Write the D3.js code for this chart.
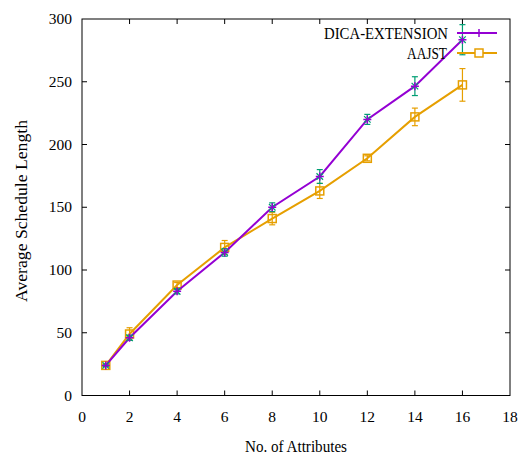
<!DOCTYPE html>
<html>
<head>
<meta charset="utf-8">
<script src="https://cdn.jsdelivr.net/npm/d3@7"></script>
<style>
  body { margin: 0; background: #fff; }
  text { font-family: "Liberation Serif", "Times New Roman", serif; fill: #000; }
</style>
</head>
<body>
<div id="chart"></div>
<script>
(function() {
  var width = 530,
      height = 455;

  // Data.
  var attributes = [1, 2, 4, 6, 8, 10, 12, 14, 16];
  var dicaValues = [24, 46, 83, 114, 150, 174.5, 220, 246.5, 283.5];
  var dicaErrors = [1, 2, 2, 3, 3.5, 5.5, 4, 7.5, 12];
  var aajstValues = [24, 49, 88, 118, 141, 163, 189, 222, 247.5];
  var aajstErrors = [1, 5, 2, 5.5, 5, 6, 2, 7, 13];
  var xTicks = [0, 2, 4, 6, 8, 10, 12, 14, 16, 18];
  var yTicks = [0, 50, 100, 150, 200, 250, 300];

  var svg = d3.select("#chart")
    .append("svg")
      .attr("width", width)
      .attr("height", height);

  var left = 82, right = 510, top = 19, bottom = 395.5;

  var x = d3.scaleLinear().domain([0, 18]).range([left, right]);
  var y = d3.scaleLinear().domain([0, 300]).range([bottom, top]);

  // Ticks on all four sides, pointing inward.
  var tickLen = 5;
  var ticks = svg.append("g").attr("stroke", "#000").attr("stroke-width", 1);
  xTicks.forEach(function(t) {
    if (t === 0 || t === 18) return;
    ticks.append("line").attr("x1", x(t)).attr("x2", x(t)).attr("y1", bottom).attr("y2", bottom - tickLen);
    ticks.append("line").attr("x1", x(t)).attr("x2", x(t)).attr("y1", top).attr("y2", top + tickLen);
  });
  yTicks.forEach(function(t) {
    if (t === 0 || t === 300) return;
    ticks.append("line").attr("x1", left).attr("x2", left + tickLen).attr("y1", y(t)).attr("y2", y(t));
    ticks.append("line").attr("x1", right).attr("x2", right - tickLen).attr("y1", y(t)).attr("y2", y(t));
  });

  // Tick labels.
  svg.append("g").selectAll("text")
    .data(xTicks)
    .enter()
    .append("text")
      .attr("x", function(d) { return x(d); })
      .attr("y", bottom + 26)
      .attr("text-anchor", "middle")
      .style("font-size", "15.5px")
      .text(function(d) { return d; });

  svg.append("g").selectAll("text")
    .data(yTicks)
    .enter()
    .append("text")
      .attr("x", left - 10)
      .attr("y", function(d) { return y(d) + 5; })
      .attr("text-anchor", "end")
      .style("font-size", "15.5px")
      .text(function(d) { return d; });

  // Axis titles.
  svg.append("text")
    .attr("x", 296)
    .attr("y", 452)
    .attr("text-anchor", "middle")
    .attr("textLength", 102)
    .attr("lengthAdjust", "spacingAndGlyphs")
    .style("font-size", "16px")
    .text("No. of Attributes");

  svg.append("text")
    .attr("transform", "translate(27,211) rotate(-90)")
    .attr("text-anchor", "middle")
    .attr("textLength", 182)
    .attr("lengthAdjust", "spacingAndGlyphs")
    .style("font-size", "16px")
    .text("Average Schedule Length");

  var purple = "#9400d3",
      teal = "#009e73",
      orange = "#e69f00";

  var line = d3.line()
    .x(function(d) { return x(d[0]); })
    .y(function(d) { return y(d[1]); });

  function errorBars(vals, errs, color) {
    var g = svg.append("g").attr("stroke", color).attr("stroke-width", 1.2);
    attributes.forEach(function(a, i) {
      var cx = x(a), y1 = y(vals[i] - errs[i]), y2 = y(vals[i] + errs[i]);
      g.append("line").attr("x1", cx).attr("x2", cx).attr("y1", y1).attr("y2", y2);
      g.append("line").attr("x1", cx - 3).attr("x2", cx + 3).attr("y1", y1).attr("y2", y1);
      g.append("line").attr("x1", cx - 3).attr("x2", cx + 3).attr("y1", y2).attr("y2", y2);
    });
  }

  // AAJST series.
  var aajstData = attributes.map(function(a, i) { return [a, aajstValues[i]]; });
  errorBars(aajstValues, aajstErrors, orange);
  svg.append("path")
    .datum(aajstData)
    .attr("d", line)
    .attr("fill", "none")
    .attr("stroke", orange)
    .attr("stroke-width", 2);
  svg.append("g").selectAll("rect")
    .data(aajstData)
    .enter()
    .append("rect")
      .attr("x", function(d) { return x(d[0]) - 4; })
      .attr("y", function(d) { return y(d[1]) - 4; })
      .attr("width", 8)
      .attr("height", 8)
      .attr("fill", "none")
      .attr("stroke", orange)
      .attr("stroke-width", 1.5);

  // DICA-EXTENSION series.
  var dicaData = attributes.map(function(a, i) { return [a, dicaValues[i]]; });
  errorBars(dicaValues, dicaErrors, teal);
  svg.append("path")
    .datum(dicaData)
    .attr("d", line)
    .attr("fill", "none")
    .attr("stroke", purple)
    .attr("stroke-width", 2);
  var star = d3.symbol().type(d3.symbolX).size(30);
  svg.append("g").selectAll("path")
    .data(dicaData)
    .enter()
    .append("path")
      .attr("transform", function(d) { return "translate(" + x(d[0]) + "," + y(d[1]) + ")"; })
      .attr("d", star)
      .attr("fill", "none")
      .attr("stroke", teal)
      .attr("stroke-width", 1.2);
  svg.append("g").selectAll("path")
    .data(dicaData)
    .enter()
    .append("path")
      .attr("transform", function(d) { return "translate(" + x(d[0]) + "," + y(d[1]) + ")"; })
      .attr("d", "M-4,0H4M0,-4V4")
      .attr("fill", "none")
      .attr("stroke", purple)
      .attr("stroke-width", 1.5);

  // Frame.
  svg.append("rect")
    .attr("x", left)
    .attr("y", top)
    .attr("width", right - left)
    .attr("height", bottom - top)
    .attr("fill", "none")
    .attr("stroke", "#000")
    .attr("stroke-width", 1);

  // Legend.
  var legend = svg.append("g");
  legend.append("text")
    .attr("x", 448).attr("y", 39)
    .attr("text-anchor", "end")
    .attr("textLength", 124)
    .attr("lengthAdjust", "spacingAndGlyphs")
    .style("font-size", "17px")
    .text("DICA-EXTENSION");
  legend.append("line")
    .attr("x1", 457).attr("x2", 497).attr("y1", 33).attr("y2", 33)
    .attr("stroke", purple).attr("stroke-width", 2);
  legend.append("path")
    .attr("transform", "translate(479,33)")
    .attr("d", "M0,-4V4")
    .attr("stroke", purple).attr("stroke-width", 1.5);

  legend.append("text")
    .attr("x", 447).attr("y", 59)
    .attr("text-anchor", "end")
    .attr("textLength", 40)
    .attr("lengthAdjust", "spacingAndGlyphs")
    .style("font-size", "17px")
    .text("AAJST");
  legend.append("line")
    .attr("x1", 457).attr("x2", 497).attr("y1", 53).attr("y2", 53)
    .attr("stroke", orange).attr("stroke-width", 2);
  legend.append("rect")
    .attr("x", 475).attr("y", 49).attr("width", 8).attr("height", 8)
    .attr("fill", "#fff").attr("stroke", orange).attr("stroke-width", 1.5);
})();
</script>
</body>
</html>
